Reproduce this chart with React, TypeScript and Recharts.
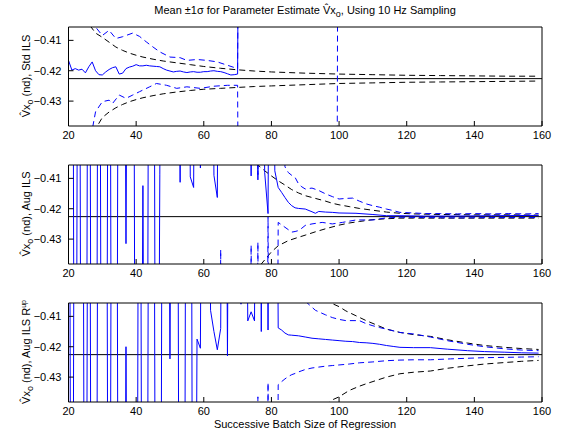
import React from 'react';
import { LineChart, Line, XAxis, YAxis, ReferenceLine } from 'recharts';

type Pt = [number, number];

const xTicks = [20, 40, 60, 80, 100, 120, 140, 160];
const yTicks = [-0.43, -0.42, -0.41];
const yDomain: [number, number] = [-0.4382, -0.4056];
const xDomain: [number, number] = [20, 160];
const truthValue = -0.4226;
// estimates that run far off the plotted range
const HI = -0.2;
const LO = -0.65;

// ---------- Panel 1 : Std ILS ----------
const p1Mean: Pt[] = [
  [20, -0.4166], [21, -0.4198], [22, -0.4193], [23, -0.4198], [24, -0.4195], [25, -0.4207],
  [26, -0.4187], [27, -0.4171], [28, -0.42], [29, -0.4213], [30, -0.4214], [31, -0.4204],
  [32, -0.4196], [33, -0.419], [34, -0.4187], [35, -0.4211], [36, -0.4208], [37, -0.4193],
  [38, -0.4188], [39, -0.4185], [40, -0.418], [41, -0.4184], [42, -0.4184], [43, -0.4182],
  [44, -0.4184], [45, -0.4185], [46, -0.4186], [47, -0.4187], [48, -0.4193], [49, -0.4198],
  [50, -0.4201], [51, -0.4204], [52, -0.4202], [53, -0.4201], [54, -0.4204], [55, -0.4206],
  [56, -0.4204], [57, -0.4203], [58, -0.4205], [59, -0.4205], [60, -0.4203], [61, -0.4203],
  [62, -0.4201], [63, -0.42], [64, -0.4202], [65, -0.4203], [66, -0.4206], [67, -0.421],
  [68, -0.4214], [69, -0.4213], [70, -0.4211], [71, HI],
];
const p1Upper: Pt[] = [
  [26, -0.4], [28, -0.4056], [30, -0.4084], [32, -0.4067], [34, -0.4094], [36, -0.4088],
  [37, -0.4084], [39, -0.4076], [41, -0.4087], [43, -0.4105], [45, -0.4122], [47, -0.4138],
  [50, -0.4155], [53, -0.4157], [55, -0.4166], [58, -0.4163], [61, -0.4166], [64, -0.4171],
  [67, -0.4182], [70, -0.4193], [71, HI],
];
const p1Lower: Pt[] = [
  [26, -0.445], [27, -0.4395], [28, -0.4335], [30, -0.4302], [32, -0.4297], [33, -0.4308],
  [35, -0.428], [37, -0.4291], [39, -0.428], [41, -0.4269], [44, -0.4253], [46, -0.4242],
  [49, -0.4248], [52, -0.4258], [55, -0.4253], [59, -0.4258], [63, -0.4251], [67, -0.4248],
  [70, -0.4248], [71, LO], [99, LO], [100, HI],
];
const p1BoundUp: Pt[] = [
  [22, -0.3966], [24, -0.4006], [26, -0.4046], [28, -0.4076], [30, -0.409], [32, -0.4106],
  [34, -0.4122], [36, -0.4133], [38, -0.4142], [40, -0.4149], [42, -0.4155], [45, -0.4162],
  [48, -0.4168], [52, -0.4174], [56, -0.418], [60, -0.4186], [65, -0.4192], [70, -0.4197],
  [75, -0.4201], [80, -0.4204], [90, -0.4208], [100, -0.4211], [110, -0.4213], [120, -0.4215],
  [130, -0.4216], [140, -0.4217], [150, -0.4218], [159, -0.4218],
];
const p1BoundLo: Pt[] = [
  [22, -0.452], [24, -0.447], [26, -0.443], [28, -0.4392], [30, -0.4354], [32, -0.4336],
  [34, -0.4322], [36, -0.4311], [38, -0.4302], [40, -0.4295], [42, -0.4289], [45, -0.4282],
  [48, -0.4276], [52, -0.427], [56, -0.4265], [60, -0.4261], [65, -0.4258], [70, -0.4255],
  [75, -0.4252], [80, -0.425], [90, -0.4246], [100, -0.4242], [110, -0.424], [120, -0.4238],
  [130, -0.4237], [140, -0.4236], [150, -0.4235], [159, -0.4234],
];

// ---------- Panel 2 : Aug ILS ----------
const p2Mean: Pt[] = [
  [20, HI], [21, HI], [22, LO], [23, HI], [24, LO], [25, LO], [26, HI], [27, LO], [28, LO],
  [29, HI], [30, LO], [31, LO], [32, HI], [33, LO], [34, LO], [35, HI], [36, HI],
  [37, -0.4315], [38, HI], [39, HI], [40, LO], [41, LO], [42, -0.4124], [43, LO], [44, HI],
  [45, HI], [46, LO], [47, -0.4086], [48, HI], [52, HI], [53, -0.4113], [54, HI], [55, HI],
  [56, -0.4095], [57, -0.413], [58, HI], [59, -0.4066], [60, HI], [62, HI], [63, -0.409],
  [64, -0.4163], [65, HI], [73, HI], [74, -0.4092], [75, HI], [76, -0.4105], [77, HI],
  [78, -0.408], [79, -0.4216], [80, HI], [81, -0.4075], [82, -0.413], [83, -0.4146],
  [84, -0.4163], [85, -0.4179], [86, -0.419], [87, -0.4197], [88, -0.4199], [90, -0.4201],
  [92, -0.421], [93, -0.4215], [94, -0.4209], [96, -0.4211], [98, -0.4212], [100, -0.4214],
  [105, -0.4215], [110, -0.4219], [114, -0.4223], [118, -0.4223], [125, -0.4224],
  [135, -0.4224], [145, -0.4223], [159, -0.4222],
];
const p2Upper: Pt[] = [
  [75, HI], [76, -0.4088], [77, HI], [83, HI], [84, -0.4062], [85, -0.4081], [86, -0.409],
  [87, -0.4097], [88, -0.4118], [89, -0.4128], [90, -0.4135], [92, -0.4132], [94, -0.414],
  [96, -0.4151], [98, -0.416], [100, -0.4168], [102, -0.4166], [104, -0.4165], [106, -0.4175],
  [108, -0.4184], [110, -0.419], [112, -0.4195], [114, -0.4201], [116, -0.4206],
  [118, -0.4212], [122, -0.4214], [126, -0.4216], [130, -0.4216], [135, -0.4217],
  [140, -0.4216], [145, -0.4217], [150, -0.4216], [155, -0.4217], [159, -0.4216],
];
const p2Lower: Pt[] = [
  [20, LO], [64, LO], [65, -0.4335], [66, LO], [73, LO], [74, -0.432], [75, LO],
  [76, -0.431], [77, LO], [78, LO], [79, -0.4228], [80, LO], [81, LO], [82, -0.4245],
  [83, -0.4253], [84, -0.4261], [85, -0.4269], [86, -0.4277], [87, -0.4275], [88, -0.4272],
  [89, -0.4264], [90, -0.4255], [92, -0.425], [95, -0.4245], [98, -0.425], [101, -0.4245],
  [105, -0.4237], [110, -0.4237], [114, -0.423], [118, -0.4228], [125, -0.4229],
  [135, -0.423], [145, -0.4229], [159, -0.4229],
];
const p2BoundUp: Pt[] = [
  [74, -0.402], [76, -0.4056], [78, -0.4075], [80, -0.4092], [82, -0.4108], [84, -0.4122],
  [86, -0.4137], [88, -0.4148], [90, -0.4157], [93, -0.4166], [96, -0.4175], [98, -0.4182],
  [100, -0.4187], [103, -0.4193], [106, -0.4199], [110, -0.4205], [114, -0.4211],
  [118, -0.4215], [122, -0.4217], [130, -0.4219], [140, -0.422], [150, -0.422], [159, -0.4221],
];
const p2BoundLo: Pt[] = [
  [75, -0.441], [77, -0.4382], [80, -0.4342], [82, -0.4322], [85, -0.4305], [88, -0.4294],
  [90, -0.4287], [93, -0.4276], [96, -0.4266], [100, -0.4254], [103, -0.4247],
  [106, -0.4242], [110, -0.4236], [114, -0.4233], [118, -0.4231], [122, -0.4231],
  [130, -0.4231], [140, -0.4231], [150, -0.4231], [159, -0.4231],
];

// ---------- Panel 3 : Aug ILS R^up ----------
const p3Mean: Pt[] = [
  [20, HI], [21, LO], [22, HI], [23, HI], [24, HI], [25, LO], [26, HI], [27, LO], [28, LO],
  [29, HI], [30, HI], [31, HI], [32, LO], [33, HI], [34, HI], [35, LO], [36, LO],
  [37, -0.42], [38, LO], [39, LO], [40, LO], [41, HI], [42, LO], [43, LO], [44, HI],
  [45, HI], [46, LO], [47, LO], [48, HI], [49, HI], [50, -0.424], [51, HI], [52, HI],
  [53, LO], [54, LO], [55, HI], [56, HI], [57, LO], [58, -0.4175], [59, -0.4205], [60, HI],
  [61, HI], [62, -0.408], [63, -0.415], [64, -0.421], [65, -0.414], [66, HI], [67, -0.423],
  [68, HI], [70, HI], [71, -0.406], [72, HI], [73, -0.4115], [74, -0.4085], [75, -0.4115],
  [76, HI], [77, -0.415], [78, HI], [79, -0.4145], [80, HI], [81, HI], [82, -0.4138],
  [83, -0.4145], [84, -0.4155], [85, -0.4161], [86, -0.4162], [88, -0.4164], [90, -0.4168],
  [92, -0.4172], [94, -0.4174], [96, -0.4176], [98, -0.4178], [100, -0.418], [102, -0.4182],
  [104, -0.4183], [106, -0.4186], [108, -0.4187], [110, -0.4189], [112, -0.4192],
  [114, -0.4196], [116, -0.4199], [118, -0.4202], [122, -0.4203], [127, -0.4203],
  [132, -0.4208], [138, -0.4213], [143, -0.4216], [149, -0.4218], [154, -0.422], [159, -0.4221],
];
const p3Upper: Pt[] = [
  [90, -0.405], [93, -0.408], [96, -0.4095], [98, -0.4104], [100, -0.411], [102, -0.4114],
  [106, -0.4114], [108, -0.4124], [110, -0.4131], [112, -0.4137], [114, -0.4142],
  [118, -0.4153], [122, -0.4158], [127, -0.4168], [132, -0.418], [138, -0.4192],
  [143, -0.42], [149, -0.4207], [154, -0.4211], [159, -0.4213],
];
const p3Lower: Pt[] = [
  [20, LO], [75, LO], [76, -0.4365], [77, LO], [78, LO], [79, -0.4318], [80, LO], [81, LO],
  [82, -0.4325], [83, -0.4315], [84, -0.4306], [85, -0.4298], [86, -0.4292], [87, -0.4288],
  [88, -0.4283], [89, -0.4279], [90, -0.4275], [92, -0.427], [94, -0.4267], [96, -0.4264],
  [98, -0.4262], [100, -0.426], [103, -0.4257], [106, -0.4253], [110, -0.425], [114, -0.4246],
  [118, -0.4244], [122, -0.4243], [127, -0.4243], [133, -0.424], [138, -0.4238],
  [143, -0.4236], [149, -0.4235], [154, -0.4234], [159, -0.4233],
];
const p3BoundUp: Pt[] = [
  [96, -0.404], [98, -0.4058], [100, -0.4068], [102, -0.4082], [105, -0.4098], [108, -0.4114],
  [111, -0.4128], [114, -0.4142], [118, -0.4153], [122, -0.416], [127, -0.4166],
  [132, -0.4177], [138, -0.4188], [143, -0.4196], [149, -0.4202], [154, -0.4206], [159, -0.4209],
];
const p3BoundLo: Pt[] = [
  [96, -0.4395], [98, -0.4375], [100, -0.4365], [103, -0.4344], [106, -0.433], [108, -0.4322],
  [111, -0.4311], [114, -0.43], [118, -0.4289], [122, -0.4284], [127, -0.428], [132, -0.4271],
  [138, -0.4263], [143, -0.4257], [149, -0.4252], [154, -0.4248], [159, -0.4245],
];

const BLUE = '#0000ff';
const DASH = '6 4';
const FONT = '"Liberation Sans", Arial, Helvetica, sans-serif';

const toRows = (pts: Pt[]) => pts.map(([x, y]) => ({ x, y }));
const fmtY = (v: number) => (v < 0 ? '\u2212' + Math.abs(v).toFixed(2) : v.toFixed(2));

type Series = { pts: Pt[]; color: string; dashed: boolean };

const PLOT_H = 99;
const MARGIN_TOP = 9;
const TOP_AXIS_H = 1;
const XAXIS_H = 22;

function Panel({ plotTop, series }: { plotTop: number; series: Series[] }) {
  return (
    <div style={{ position: 'absolute', left: 0, top: plotTop - MARGIN_TOP - TOP_AXIS_H }}>
      <LineChart
        width={566}
        height={MARGIN_TOP + TOP_AXIS_H + PLOT_H + XAXIS_H}
        margin={{ top: MARGIN_TOP, right: 23, bottom: 0, left: 0 }}
      >
        <XAxis
          xAxisId="b"
          dataKey="x"
          type="number"
          domain={xDomain}
          ticks={xTicks}
          interval={0}
          allowDataOverflow
          height={XAXIS_H}
          tickSize={-5}
          tickMargin={10}
          stroke="#000"
          tick={{ fill: '#000', fontSize: 11, fontFamily: FONT }}
        />
        <XAxis
          xAxisId="t"
          orientation="top"
          type="number"
          domain={xDomain}
          ticks={xTicks}
          interval={0}
          allowDataOverflow
          height={TOP_AXIS_H}
          tickSize={-5}
          tick={false}
          stroke="#000"
        />
        <YAxis
          yAxisId="l"
          type="number"
          domain={yDomain}
          ticks={yTicks}
          interval={0}
          allowDataOverflow
          width={68.5}
          tickSize={-5}
          tickMargin={12}
          tickFormatter={fmtY}
          stroke="#000"
          tick={{ fill: '#000', fontSize: 11, fontFamily: FONT }}
        />
        <YAxis
          yAxisId="r"
          orientation="right"
          type="number"
          domain={yDomain}
          ticks={yTicks}
          interval={0}
          allowDataOverflow
          width={1}
          tickSize={-5}
          tick={false}
          stroke="#000"
        />
        <ReferenceLine xAxisId="b" yAxisId="l" y={truthValue} stroke="#000" strokeWidth={1} />
        {series.map((s, i) => (
          <Line
            key={i}
            xAxisId="b"
            yAxisId="l"
            data={toRows(s.pts)}
            dataKey="y"
            type="linear"
            stroke={s.color}
            strokeWidth={1}
            strokeDasharray={s.dashed ? DASH : undefined}
            dot={false}
            activeDot={false}
            isAnimationActive={false}
          />
        ))}
      </LineChart>
    </div>
  );
}

const panel1: Series[] = [
  { pts: p1BoundUp, color: '#000', dashed: true },
  { pts: p1BoundLo, color: '#000', dashed: true },
  { pts: p1Upper, color: BLUE, dashed: true },
  { pts: p1Lower, color: BLUE, dashed: true },
  { pts: p1Mean, color: BLUE, dashed: false },
];
const panel2: Series[] = [
  { pts: p2BoundUp, color: '#000', dashed: true },
  { pts: p2BoundLo, color: '#000', dashed: true },
  { pts: p2Upper, color: BLUE, dashed: true },
  { pts: p2Lower, color: BLUE, dashed: true },
  { pts: p2Mean, color: BLUE, dashed: false },
];
const panel3: Series[] = [
  { pts: p3BoundUp, color: '#000', dashed: true },
  { pts: p3BoundLo, color: '#000', dashed: true },
  { pts: p3Upper, color: BLUE, dashed: true },
  { pts: p3Lower, color: BLUE, dashed: true },
  { pts: p3Mean, color: BLUE, dashed: false },
];

const plotTops = [26.5, 164.5, 302.5];

function YLabel({ cy, tail, sup }: { cy: number; tail: string; sup?: string }) {
  return (
    <text
      transform={`translate(30, ${cy}) rotate(-90)`}
      textAnchor="middle"
      fontSize={11}
      fontFamily={FONT}
      fill="#000"
    >
      {'V\u0302x'}
      <tspan fontSize={9} dy={3}>o</tspan>
      <tspan dy={-3}>{' (nd), ' + tail}</tspan>
      {sup ? (
        <tspan fontSize={7} dy={-4}>{sup}</tspan>
      ) : null}
    </text>
  );
}

export default function App() {
  return (
    <div
      style={{
        position: 'absolute',
        left: 0,
        top: 0,
        width: 566,
        height: 431,
        background: '#fff',
        overflow: 'hidden',
      }}
    >
      <Panel plotTop={plotTops[0]} series={panel1} />
      <Panel plotTop={plotTops[1]} series={panel2} />
      <Panel plotTop={plotTops[2]} series={panel3} />
      <svg
        width={566}
        height={431}
        style={{ position: 'absolute', left: 0, top: 0, pointerEvents: 'none' }}
      >
        <text x={305} y={14} textAnchor="middle" fontSize={11} fontFamily={FONT} fill="#000">
          {'Mean \u00B11\u03C3 for Parameter Estimate V\u0302x'}
          <tspan fontSize={9} dy={3}>o</tspan>
          <tspan dy={-3}>, Using 10 Hz Sampling</tspan>
        </text>
        <YLabel cy={plotTops[0] + PLOT_H / 2} tail="Std ILS" />
        <YLabel cy={plotTops[1] + PLOT_H / 2} tail="Aug ILS" />
        <YLabel cy={plotTops[2] + PLOT_H / 2} tail="Aug ILS R" sup="up" />
        <text x={305} y={428} textAnchor="middle" fontSize={11} fontFamily={FONT} fill="#000">
          Successive Batch Size of Regression
        </text>
      </svg>
    </div>
  );
}
